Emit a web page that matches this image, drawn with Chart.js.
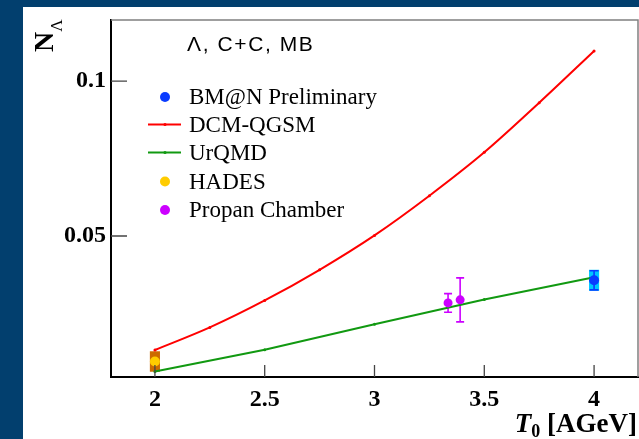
<!DOCTYPE html>
<html>
<head>
<meta charset="utf-8">
<script src="https://cdn.jsdelivr.net/npm/chart.js@4.4.0/dist/chart.umd.min.js"></script>
<style>
  html, body { margin: 0; padding: 0; background: #023f6e; }
  canvas { display: block; }
</style>
</head>
<body>
<canvas id="lambdaChart" width="639" height="439"></canvas>
<script>
// Model curves (T0 in AGeV)
const dcmT = [2, 2.25, 2.5, 2.75, 3, 3.25, 3.5, 3.75, 4];
const dcmQgsm = [0.0132, 0.0205, 0.0292, 0.0391, 0.0502, 0.063, 0.077, 0.093, 0.1097];
const urqmdT = [2, 2.5, 3, 3.5, 4];
const urqmd = [0.0063, 0.0133, 0.0215, 0.0295, 0.0367];

// Measurements
const bmnT = [4];
const bmnY = [0.0357];
const bmnStat = [0.0031];
const bmnSys = [0.0034];
const hadesT = [2];
const hadesY = [0.0095];
const hadesSys = [0.0033];
const propanT = [3.335, 3.39];
const propanY = [0.0284, 0.0294];
const propanErr = [0.0030, 0.0071];

// Axis ticks
const xTicks = [2, 2.5, 3, 3.5, 4];
const xTickLabels = ['2', '2.5', '3', '3.5', '4'];
const yTicks = [0.05, 0.1];
const yTickLabels = ['0.05', '0.1'];

const BLUE = '#0a3cff', CYAN = '#00c8ff', RED = '#ff0000', GREEN = '#119911';
const YELLOW = '#ffcc00', ORANGE = '#cc6a00', VIOLET = '#cc00ff';
const serif = "'Liberation Serif', 'Times New Roman', serif";

const toXY = (xs, ys) => xs.map((x, i) => ({ x: x, y: ys[i] }));

// backgrounds, frame and inward tick marks
const framePlugin = {
    id: 'frame',
    beforeDraw(chart) {
        const ctx = chart.ctx;
        ctx.save();
        ctx.fillStyle = '#023f6e';
        ctx.fillRect(0, 0, chart.width, chart.height);
        ctx.fillStyle = '#ffffff';
        ctx.fillRect(23, 7, chart.width - 23, chart.height - 7);
        ctx.restore();
    },
    beforeDatasetsDraw(chart) {
        const ctx = chart.ctx;
        const xs = chart.scales.x, ys = chart.scales.y;
        ctx.save();
        // sys boxes
        const box = (t, y, e, color) => {
            const l = xs.getPixelForValue(t - 0.023), r = xs.getPixelForValue(t + 0.023);
            const top = ys.getPixelForValue(y + e), bot = ys.getPixelForValue(y - e);
            ctx.fillStyle = color;
            ctx.fillRect(l, top, r - l, bot - top);
        };
        hadesT.forEach((t, i) => box(t, hadesY[i], hadesSys[i], ORANGE));
        bmnT.forEach((t, i) => box(t, bmnY[i], bmnSys[i], CYAN));
        // stat error bars with caps
        const bar = (t, y, e, color, cap) => {
            const px = xs.getPixelForValue(t);
            const top = ys.getPixelForValue(y + e), bot = ys.getPixelForValue(y - e);
            ctx.strokeStyle = color;
            ctx.lineWidth = 1.6;
            ctx.beginPath();
            ctx.moveTo(px, top); ctx.lineTo(px, bot);
            ctx.moveTo(px - cap, top); ctx.lineTo(px + cap, top);
            ctx.moveTo(px - cap, bot); ctx.lineTo(px + cap, bot);
            ctx.stroke();
        };
        propanT.forEach((t, i) => bar(t, propanY[i], propanErr[i], VIOLET, 4));
        bmnT.forEach((t, i) => bar(t, bmnY[i], bmnStat[i], BLUE, 4.5));
        ctx.restore();
    },
    afterDraw(chart) {
        const ctx = chart.ctx;
        const a = chart.chartArea;
        const xs = chart.scales.x, ys = chart.scales.y;
        ctx.save();
        // top and right frame
        ctx.strokeStyle = '#808080';
        ctx.lineWidth = 1.5;
        ctx.beginPath();
        ctx.moveTo(a.left, a.top); ctx.lineTo(a.right, a.top); ctx.lineTo(a.right, a.bottom);
        ctx.stroke();
        // inward ticks
        ctx.strokeStyle = '#444';
        ctx.lineWidth = 1.3;
        ctx.beginPath();
        xTicks.forEach(v => {
            const px = xs.getPixelForValue(v);
            ctx.moveTo(px, a.bottom); ctx.lineTo(px, a.bottom - 12);
        });
        yTicks.forEach(v => {
            const py = ys.getPixelForValue(v);
            ctx.moveTo(a.left, py); ctx.lineTo(a.left + 16, py);
        });
        ctx.stroke();

        // title in the pad
        ctx.fillStyle = '#000';
        ctx.textBaseline = 'alphabetic';
        ctx.font = "21px 'Liberation Sans', Arial, sans-serif";
        ctx.letterSpacing = '1.6px';
        ctx.fillText('Λ, C+C, MB', 187, 51);
        ctx.letterSpacing = '0px';

        // legend
        ctx.font = '23px ' + serif;
        const rows = [
            { label: 'BM@N Preliminary', kind: 'dot', color: BLUE, y: 97 },
            { label: 'DCM-QGSM', kind: 'line', color: RED, y: 124.5 },
            { label: 'UrQMD', kind: 'line', color: GREEN, y: 152.5 },
            { label: 'HADES', kind: 'dot', color: YELLOW, y: 181.5 },
            { label: 'Propan Chamber', kind: 'dot', color: VIOLET, y: 210 }
        ];
        rows.forEach(r => {
            if (r.kind === 'dot') {
                ctx.fillStyle = r.color;
                ctx.beginPath();
                ctx.arc(165, r.y, 5, 0, Math.PI * 2);
                ctx.fill();
            } else {
                ctx.strokeStyle = r.color;
                ctx.lineWidth = 2;
                ctx.beginPath();
                ctx.moveTo(148, r.y); ctx.lineTo(181, r.y);
                ctx.stroke();
                ctx.fillStyle = r.color;
                ctx.beginPath();
                ctx.arc(165, r.y, 1.6, 0, Math.PI * 2);
                ctx.fill();
            }
            ctx.fillStyle = '#000';
            ctx.textBaseline = 'middle';
            ctx.fillText(r.label, 189, r.y + 1);
        });

        // x axis title
        ctx.textBaseline = 'alphabetic';
        ctx.textAlign = 'left';
        const xLabel = '[AGeV]';
        ctx.font = 'bold 27px ' + serif;
        const wRest = ctx.measureText(' ' + xLabel).width;
        ctx.font = 'bold 18px ' + serif;
        const wSub = ctx.measureText('0').width;
        ctx.font = 'italic bold 27px ' + serif;
        const wT = ctx.measureText('T').width;
        let x0 = 637 - wRest - wSub - wT;
        ctx.fillText('T', x0, 432);
        ctx.font = 'bold 18px ' + serif;
        ctx.fillText('0', x0 + wT, 437);
        ctx.font = 'bold 27px ' + serif;
        ctx.fillText(' ' + xLabel, x0 + wT + wSub, 432);

        // y axis title, rotated
        ctx.translate(53, 52);
        ctx.rotate(-Math.PI / 2);
        ctx.font = 'bold 28px ' + serif;
        ctx.fillText('N', 0, 0);
        const wN = ctx.measureText('N').width;
        ctx.font = '17px ' + serif;
        ctx.fillText('Λ', wN, 9);
        ctx.restore();
    }
};

const ctx = document.getElementById('lambdaChart').getContext('2d');
const lambdaChart = new Chart(ctx, {
    type: 'scatter',
    data: {
        datasets: [
            {
                label: 'BM@N Preliminary',
                data: toXY(bmnT, bmnY),
                backgroundColor: BLUE,
                borderWidth: 0,
                pointRadius: 5
            },
            {
                label: 'HADES',
                data: toXY(hadesT, hadesY),
                backgroundColor: YELLOW,
                borderWidth: 0,
                pointRadius: 5
            },
            {
                label: 'Propan Chamber',
                data: toXY(propanT, propanY),
                backgroundColor: VIOLET,
                borderWidth: 0,
                pointRadius: 4.5
            },
            {
                label: 'DCM-QGSM',
                type: 'line',
                data: toXY(dcmT, dcmQgsm),
                borderColor: RED,
                backgroundColor: RED,
                borderWidth: 2,
                pointRadius: 1.5,
                pointBorderWidth: 0,
                cubicInterpolationMode: 'monotone',
                fill: false
            },
            {
                label: 'UrQMD',
                type: 'line',
                data: toXY(urqmdT, urqmd),
                borderColor: GREEN,
                backgroundColor: GREEN,
                borderWidth: 2,
                pointRadius: 1.5,
                pointBorderWidth: 0,
                fill: false
            }
        ]
    },
    options: {
        responsive: false,
        animation: false,
        layout: { autoPadding: false, padding: { top: 20, right: 1, left: 0, bottom: 0 } },
        plugins: {
            legend: { display: false },
            tooltip: { enabled: false }
        },
        scales: {
            x: {
                type: 'linear',
                min: 1.8,
                max: 4.2,
                afterBuildTicks: s => { s.ticks = xTicks.map(v => ({ value: v })); },
                afterFit: s => { s.height = 62; },
                ticks: {
                    color: '#000',
                    padding: 8,
                    font: { family: serif, weight: 'bold', size: 24 },
                    callback: v => xTickLabels[xTicks.indexOf(v)]
                },
                grid: { display: false, drawTicks: false },
                border: { display: true, color: '#000', width: 2 }
            },
            y: {
                type: 'linear',
                min: 0.0045,
                max: 0.1197,
                afterBuildTicks: s => { s.ticks = yTicks.map(v => ({ value: v })); },
                afterFit: s => { s.width = 111; },
                ticks: {
                    color: '#000',
                    padding: 5,
                    font: { family: serif, weight: 'bold', size: 24 },
                    callback: v => yTickLabels[yTicks.indexOf(v)]
                },
                grid: { display: false, drawTicks: false },
                border: { display: true, color: '#000', width: 2 }
            }
        }
    },
    plugins: [framePlugin]
});
</script>
</body>
</html>
